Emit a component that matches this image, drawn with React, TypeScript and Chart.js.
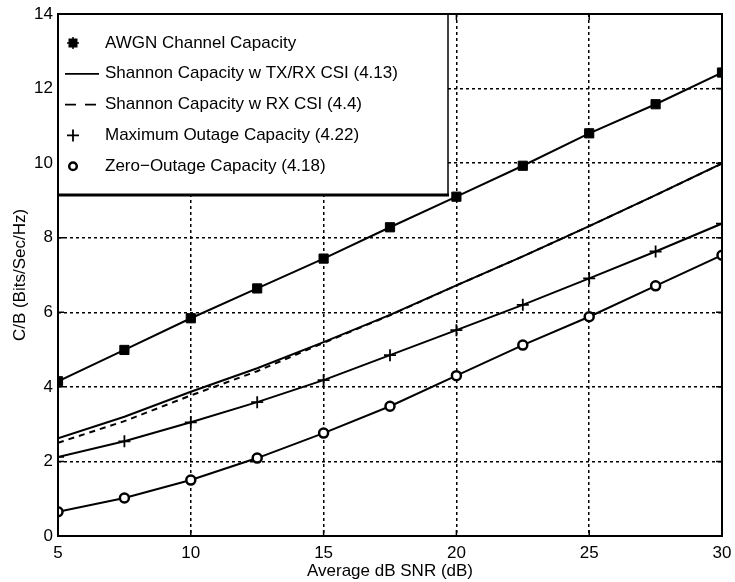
import React, { useEffect, useRef } from 'react';
import { Chart, registerables } from 'chart.js';

Chart.register(...registerables);

// ---- data ----
const snrDb = [5, 7.5, 10, 12.5, 15, 17.5, 20, 22.5, 25, 27.5, 30];
const awgnCapacity = [4.15, 4.99, 5.84, 6.64, 7.44, 8.28, 9.1, 9.93, 10.8, 11.58, 12.43];
const shannonTxRx = [2.62, 3.2, 3.87, 4.5, 5.2, 5.93, 6.72, 7.5, 8.31, 9.14, 9.99];
const shannonRx = [2.5, 3.08, 3.77, 4.42, 5.18, 5.92, 6.72, 7.5, 8.31, 9.14, 9.99];
const maxOutage = [2.12, 2.54, 3.05, 3.59, 4.18, 4.85, 5.52, 6.2, 6.91, 7.63, 8.38];
const zeroOutage = [0.65, 1.02, 1.5, 2.09, 2.76, 3.48, 4.3, 5.12, 5.88, 6.71, 7.53];

const yTickValues = [0, 2, 4, 6, 8, 10, 12, 14];
const xTickValues = [5, 10, 15, 20, 25, 30];

const legendLabels = [
  'AWGN Channel Capacity',
  'Shannon Capacity w TX/RX CSI (4.13)',
  'Shannon Capacity w RX CSI (4.4)',
  'Maximum Outage Capacity (4.22)',
  'Zero\u2212Outage Capacity (4.18)',
];
const xTitle = 'Average dB SNR (dB)';
const yTitle = 'C/B (Bits/Sec/Hz)';

const FONT = '"Liberation Sans", Arial, Helvetica, sans-serif';

const toXY = (ys: number[]) => snrDb.map((x, i) => ({ x, y: ys[i] }));

const framePlugin = {
  id: 'matlabFrame',
  afterDatasetsDraw(chart: any) {
    const { ctx, chartArea, scales } = chart;
    const { left, top, right, bottom } = chartArea;
    ctx.save();
    // inward ticks
    ctx.strokeStyle = '#000';
    ctx.lineWidth = 1.5;
    ctx.setLineDash([]);
    const tl = 6;
    yTickValues.forEach((v) => {
      const py = scales.y.getPixelForValue(v);
      ctx.beginPath();
      ctx.moveTo(left, py);
      ctx.lineTo(left + tl, py);
      ctx.moveTo(right, py);
      ctx.lineTo(right - tl, py);
      ctx.stroke();
    });
    xTickValues.forEach((v) => {
      const px = scales.x.getPixelForValue(v);
      ctx.beginPath();
      ctx.moveTo(px, bottom);
      ctx.lineTo(px, bottom - tl);
      ctx.moveTo(px, top);
      ctx.lineTo(px, top + tl);
      ctx.stroke();
    });

    // legend box
    const lx = left;
    const ly = top;
    const lw = 390;
    const lh = 181;
    ctx.fillStyle = '#fff';
    ctx.fillRect(lx, ly, lw, lh);
    ctx.strokeStyle = '#000';
    ctx.lineWidth = 1.5;
    ctx.beginPath();
    ctx.moveTo(lx + lw, ly);
    ctx.lineTo(lx + lw, ly + lh);
    ctx.stroke();
    ctx.lineWidth = 3;
    ctx.beginPath();
    ctx.moveTo(lx, ly + lh);
    ctx.lineTo(lx + lw + 1, ly + lh);
    ctx.stroke();

    ctx.font = '17px ' + FONT;
    ctx.fillStyle = '#000';
    ctx.textBaseline = 'middle';
    ctx.textAlign = 'left';
    const rowY0 = ly + 29;
    const step = 30.8;
    const mx = lx + 15;
    legendLabels.forEach((label, i) => {
      const cy = rowY0 + i * step;
      ctx.fillText(label, lx + 47, cy);
      ctx.strokeStyle = '#000';
      ctx.fillStyle = '#000';
      ctx.setLineDash([]);
      if (i === 0) {
        ctx.fillRect(mx - 4.5, cy - 4.5, 9, 9);
        ctx.lineWidth = 1.5;
        ctx.beginPath();
        ctx.moveTo(mx - 6, cy);
        ctx.lineTo(mx + 6, cy);
        ctx.moveTo(mx, cy - 6);
        ctx.lineTo(mx, cy + 6);
        ctx.stroke();
      } else if (i === 1) {
        ctx.lineWidth = 1.8;
        ctx.beginPath();
        ctx.moveTo(lx + 7, cy);
        ctx.lineTo(lx + 41, cy);
        ctx.stroke();
      } else if (i === 2) {
        ctx.lineWidth = 1.8;
        ctx.setLineDash([11, 9]);
        ctx.beginPath();
        ctx.moveTo(lx + 7, cy);
        ctx.lineTo(lx + 41, cy);
        ctx.stroke();
        ctx.setLineDash([]);
      } else if (i === 3) {
        ctx.lineWidth = 1.8;
        ctx.beginPath();
        ctx.moveTo(mx - 6, cy);
        ctx.lineTo(mx + 6, cy);
        ctx.moveTo(mx, cy - 6);
        ctx.lineTo(mx, cy + 6);
        ctx.stroke();
      } else {
        ctx.lineWidth = 2.5;
        ctx.beginPath();
        ctx.arc(mx, cy, 3.8, 0, Math.PI * 2);
        ctx.stroke();
      }
      ctx.fillStyle = '#000';
    });
    ctx.restore();
  },
  afterDraw(chart: any) {
    const { ctx, chartArea } = chart;
    ctx.save();
    ctx.strokeStyle = '#000';
    ctx.lineWidth = 2;
    ctx.setLineDash([]);
    ctx.strokeRect(chartArea.left, chartArea.top, chartArea.right - chartArea.left, chartArea.bottom - chartArea.top);
    ctx.restore();
  },
};

export default function App() {
  const canvasRef = useRef<HTMLCanvasElement | null>(null);

  useEffect(() => {
    if (!canvasRef.current) return;
    const lineBase = {
      borderColor: '#000',
      backgroundColor: '#000',
      borderWidth: 2,
      tension: 0,
      pointBorderColor: '#000',
    };
    const chart = new Chart(canvasRef.current, {
      type: 'line',
      data: {
        datasets: [
          {
            ...lineBase,
            label: legendLabels[0],
            data: toXY(awgnCapacity),
            pointStyle: 'rect',
            pointRadius: 6.5,
            pointBackgroundColor: '#000',
            pointBorderWidth: 1,
          },
          {
            ...lineBase,
            label: legendLabels[1],
            data: toXY(shannonTxRx),
            pointRadius: 0,
          },
          {
            ...lineBase,
            label: legendLabels[2],
            data: toXY(shannonRx),
            pointRadius: 0,
            borderDash: [6, 5],
          },
          {
            ...lineBase,
            label: legendLabels[3],
            data: toXY(maxOutage),
            pointStyle: 'cross',
            pointRadius: 6,
            pointBorderWidth: 1.8,
          },
          {
            ...lineBase,
            label: legendLabels[4],
            data: toXY(zeroOutage),
            pointStyle: 'circle',
            pointRadius: 4.5,
            pointBorderWidth: 2.5,
            pointBackgroundColor: '#fff',
          },
        ],
      },
      options: {
        animation: false,
        responsive: false,
        devicePixelRatio: 1,
        layout: { padding: { left: 0, right: 13, top: 14, bottom: 0 } },
        plugins: {
          legend: { display: false },
          tooltip: { enabled: false },
        },
        scales: {
          x: {
            type: 'linear',
            min: 5,
            max: 30,
            afterFit: (s: any) => {
              s.height = 46;
              s.paddingLeft = 0;
              s.paddingRight = 0;
            },
            afterBuildTicks: (s: any) => {
              s.ticks = xTickValues.map((v) => ({ value: v }));
            },
            ticks: {
              color: '#000',
              padding: 7,
              font: { family: FONT, size: 17 },
              maxRotation: 0,
              callback: (v: any) => String(v),
            },
            grid: {
              color: '#000',
              lineWidth: 1.5,
              drawTicks: false,
            },
            border: { display: false, dash: [3, 3] },
            title: {
              display: true,
              text: xTitle,
              color: '#000',
              font: { family: FONT, size: 17 },
              padding: { top: 0, bottom: 0 },
            },
          },
          y: {
            type: 'linear',
            min: 0,
            max: 14,
            afterFit: (s: any) => {
              s.width = 58;
              s.paddingTop = 0;
              s.paddingBottom = 0;
            },
            afterBuildTicks: (s: any) => {
              s.ticks = yTickValues.map((v) => ({ value: v }));
            },
            ticks: {
              color: '#000',
              padding: 5,
              font: { family: FONT, size: 17 },
              callback: (v: any) => String(v),
            },
            grid: {
              color: '#000',
              lineWidth: 1.5,
              drawTicks: false,
            },
            border: { display: false, dash: [3, 3] },
            title: {
              display: true,
              text: yTitle,
              color: '#000',
              font: { family: FONT, size: 17 },
              padding: { top: 10, bottom: 0 },
            },
          },
        },
      },
      plugins: [framePlugin],
    } as any);
    return () => chart.destroy();
  }, []);

  return (
    <div style={{ position: 'absolute', left: 0, top: 0, width: 735, height: 582, background: '#fff' }}>
      <canvas ref={canvasRef} width={735} height={582} style={{ display: 'block' }} />
    </div>
  );
}
